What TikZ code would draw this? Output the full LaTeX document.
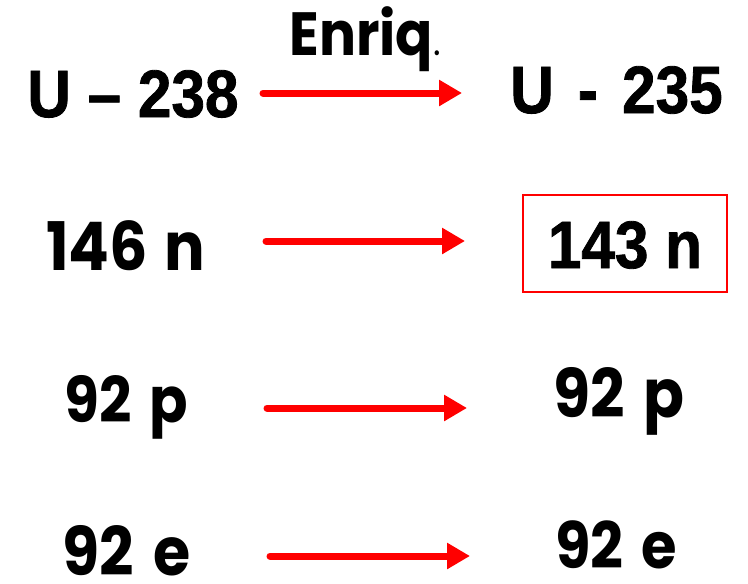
\documentclass[tikz,border=0pt]{standalone}
\usepackage{fontspec}
\setmainfont{Poppins}[FakeStretch=0.9]
\newfontfamily\arialfont{Liberation Sans Bold}[FakeStretch=0.9,FakeBold=1.2]
\usetikzlibrary{arrows.meta}
\newcommand{\gsp}{\hspace{0.28em}}
\begin{document}
\begin{tikzpicture}[x=1pt,y=-1pt,
  goth/.style={anchor=base,inner sep=0pt,text depth=0pt,font=\fontsize{#1}{#1}\selectfont\bfseries},
  goth/.default=67,
  arial/.style={anchor=base,inner sep=0pt,text depth=0pt,font=\arialfont\fontsize{67}{67}\selectfont},
  arr/.style={draw=red,line width=7pt,line cap=round,-{Triangle[length=23pt,width=25pt]}}]
\useasboundingbox[fill=white] (0,0) rectangle (748,584);
% row 1
\node[arial] (u238) at (133,117) {U – 238};
\node[goth=61] (enr) at (365,55) {Enriq{\fontsize{40}{40}\selectfont\mdseries.}};
\node[arial] (u235) at (616.5,113) {U\hspace{0.36em}-\hspace{0.36em}235};
\coordinate (a1s) at (263,93);
\coordinate (a1e) at (462,93);
\draw[arr] (a1s) -- (a1e);
% row 2
\node[goth] (n146) at (125.5,270) {146\hspace{0.24em}n};
\node[draw=red,line width=1.5pt,minimum width=204pt,minimum height=97pt,inner sep=0pt] (box) at (625,243.5) {};
\node[arial] (n143) at (625,268) {143 n};
\coordinate (a2s) at (266,241);
\coordinate (a2e) at (465,241);
\draw[arr] (a2s) -- (a2e);
% row 3
\node[goth=63] (p1) at (126.5,422) {92\gsp p};
\node[goth] (p2) at (619,417) {92\gsp p};
\coordinate (a3s) at (267,408);
\coordinate (a3e) at (467,408);
\draw[arr] (a3s) -- (a3e);
% row 4
\node[goth] (e1) at (126.5,575) {92\gsp e};
\node[goth=64] (e2) at (616,568) {92\gsp e};
\coordinate (a4s) at (270,556);
\coordinate (a4e) at (470,556);
\draw[arr] (a4s) -- (a4e);
\end{tikzpicture}
\end{document}
